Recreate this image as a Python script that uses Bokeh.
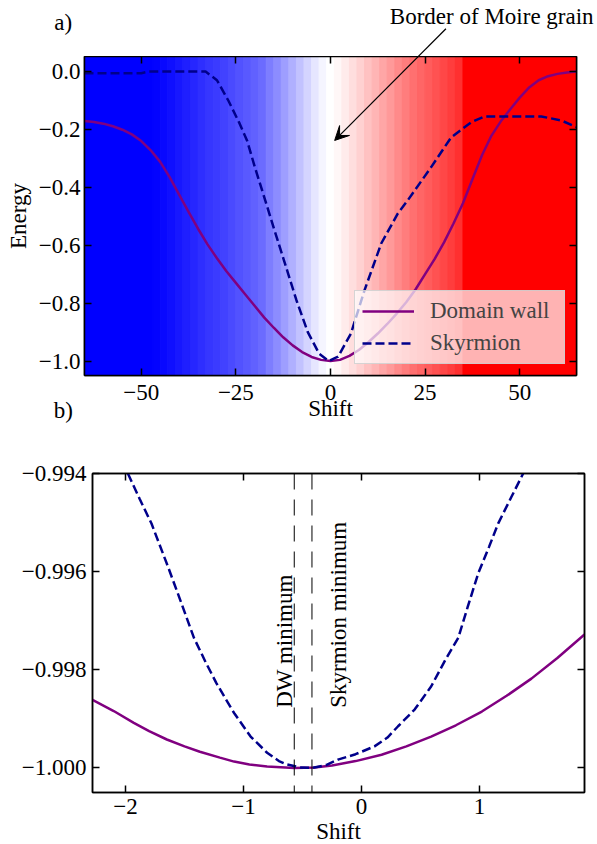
import math
from bokeh.plotting import figure
from bokeh.models import (Range1d, LinearAxis, FixedTicker, CustomJSTickFormatter,
                          Arrow, VeeHead, Label, Span, ColumnDataSource)
from bokeh.layouts import column
from bokeh.embed import file_html
from bokeh.resources import INLINE

FONT = "Liberation Serif"
FS = "23px"

# ---------------- panel a data ----------------
a_dw_shift = [-65, -62.5, -60, -57.5, -55, -52.5, -50, -47.5, -45, -42.5, -40, -37.5, -35,
              -32.5, -30, -27.5, -25, -22.5, -20, -17.5, -15, -12.5, -10, -7.5, -5, -2.5, 0,
              2.5, 5, 7.5, 10, 12.5, 15, 17.5, 20, 22.5, 25, 27.5, 30, 32.5, 35, 37.5, 40,
              42.5, 45, 47.5, 50, 52.5, 55, 57.5, 60, 62.5, 65]
a_dw_energy = [-0.171, -0.174, -0.180, -0.189, -0.201, -0.217, -0.240, -0.272, -0.312, -0.365,
               -0.425, -0.485, -0.543, -0.597, -0.645, -0.69, -0.73, -0.77, -0.81, -0.85,
               -0.885, -0.918, -0.946, -0.969, -0.986, -0.996, -1.0,
               -0.996, -0.982, -0.962, -0.935, -0.905, -0.872, -0.836, -0.797, -0.752, -0.70,
               -0.648, -0.59, -0.525, -0.455, -0.372, -0.29, -0.222, -0.172, -0.13, -0.09,
               -0.055, -0.03, -0.016, -0.008, -0.003, 0.0]

a_sk_shift = [-65, -50, -48, -33, -30, -27, -24, -22, -20, -17.6, -15, -12.3, -9, -6, -3, -0.5,
              2, 5.4, 9, 13.4, 17.8, 20.4, 26.6, 31.9, 37.2, 40.7, 55.7, 61, 65]
a_sk_energy = [-0.006, -0.006, 0.0, 0.0, -0.03, -0.1, -0.18, -0.24, -0.33, -0.43, -0.54, -0.652,
               -0.79, -0.9, -0.975, -1.0,
               -0.985, -0.905, -0.755, -0.594, -0.49, -0.445, -0.33, -0.227, -0.175, -0.155,
               -0.155, -0.169, -0.192]

# background colour bands (edges in Shift, value -1 = blue, 0 = white, +1 = red)
bg_edges = [-65, -47, -45, -43, -41, -39, -37, -35, -33, -31, -29, -27, -25, -23, -21, -19,
            -17, -15, -13, -11, -9, -7, -5, -3, -1, 1, 3, 5, 7, 9, 11, 13, 15, 17, 19, 21, 23,
            25, 27, 29, 31, 33, 35, 65]
bg_values = [-1.0,
             -0.99, -0.97, -0.94, -0.91, -0.88, -0.85, -0.82, -0.79, -0.77, -0.74, -0.71,
             -0.68, -0.65, -0.62, -0.58, -0.51, -0.45, -0.38, -0.31, -0.24, -0.17, -0.10, -0.04,
             0.0,
             0.03, 0.08, 0.13, 0.18, 0.24, 0.29, 0.35, 0.40, 0.46, 0.51, 0.56, 0.60, 0.64,
             0.68, 0.72, 0.76, 0.81,
             1.0]

a_xticks = [-50, -25, 0, 25, 50]
a_xlabels = ["\u221250", "\u221225", "0", "25", "50"]
a_yticks = [0.0, -0.2, -0.4, -0.6, -0.8, -1.0]
a_ylabels = ["0.0", "\u22120.2", "\u22120.4", "\u22120.6", "\u22120.8", "\u22121.0"]

# annotation of panel a (data coordinates)
annot_text = "Border of Moire grain"
annot_text_xy = (42.6, 0.19)
annot_start = (30.5, 0.148)
annot_end = (1.1, -0.238)
panel_a_xy = (-70.6, 0.169)
panel_b_xy = (-70.6, -1.172)

# ---------------- panel b data ----------------
b_dw_shift = [-2.28, -2.1, -1.93, -1.8, -1.65, -1.5, -1.37, -1.2, -1.08, -0.95, -0.8, -0.57,
              -0.4, -0.25, -0.05, 0.17, 0.38, 0.59, 0.8, 1.02, 1.23, 1.44, 1.66, 1.89]
b_dw_energy = [-0.99861, -0.99884, -0.99908, -0.99925, -0.99942, -0.99956, -0.99967, -0.99979,
               -0.99987, -0.99993, -0.99997, -1.0, -0.99999, -0.99995, -0.99986, -0.99973,
               -0.99956, -0.99936, -0.99913, -0.99885, -0.99853, -0.99818, -0.99776, -0.99728]

b_sk_shift = [-1.98, -1.88, -1.78, -1.64, -1.53, -1.42, -1.32, -1.23, -1.15, -1.08, -0.94, -0.80,
              -0.70, -0.63, -0.52, -0.42, -0.30, -0.20, -0.05, 0.11, 0.22, 0.31, 0.45, 0.59,
              0.71, 0.82, 0.90, 0.99, 1.08, 1.16, 1.27, 1.37]
b_sk_energy = [-0.99400, -0.99452, -0.99502, -0.99590, -0.99662, -0.99735, -0.99785, -0.99827,
               -0.99860, -0.99888, -0.99936, -0.99969, -0.99986, -0.99993, -0.99999, -1.0,
               -0.99994, -0.99983, -0.99972, -0.99956, -0.99938, -0.99915, -0.99881, -0.99834,
               -0.99780, -0.99735, -0.99672, -0.99603, -0.99550, -0.99501, -0.99448, -0.99400]

dw_minimum = -0.57
sk_minimum = -0.42
minima_label_y = -0.998773
dw_label_x = -0.656
sk_label_x = -0.198

b_xticks = [-2, -1, 0, 1]
b_xlabels = ["\u22122", "\u22121", "0", "1"]
b_yticks = [-0.994, -0.996, -0.998, -1.0]
b_ylabels = ["\u22120.994", "\u22120.996", "\u22120.998", "\u22121.000"]


def fmt(ticks, labels):
    return CustomJSTickFormatter(args=dict(tvals=ticks, tlabels=labels), code="""
        for (let i = 0; i < tvals.length; i++) {
            if (Math.abs(tick - tvals[i]) < 1e-9) { return tlabels[i]; }
        }
        return '';
    """)


def style_axis(ax, ticks, labels, show_labels=True):
    ax.ticker = FixedTicker(ticks=ticks)
    ax.formatter = fmt(ticks, labels)
    ax.major_tick_in = 7
    ax.major_tick_out = 0
    ax.minor_tick_in = 0
    ax.minor_tick_out = 0
    ax.major_tick_line_width = 1.5
    ax.major_tick_line_color = "black"
    ax.axis_line_width = 1.5
    ax.axis_line_color = "black"
    ax.major_label_text_font = FONT
    if show_labels:
        ax.major_label_text_font_size = FS
        ax.major_label_text_color = "black"
        ax.major_label_standoff = 6
    else:
        ax.major_label_text_font_size = "1px"
        ax.major_label_text_color = None
        ax.major_label_standoff = 0
    ax.axis_label_text_font = FONT
    ax.axis_label_text_font_size = FS
    ax.axis_label_text_font_style = "normal"
    ax.axis_label_text_color = "black"


def band_color(v):
    if v <= 0:
        w = int(round(255 * (1 + v)))
        return "#%02x%02x%02x" % (w, w, 255)
    w = int(round(255 * (1 - v)))
    return "#%02x%02x%02x" % (255, w, w)


def text_label(x, y, text, **kw):
    return Label(x=x, y=y, text=text, text_font=FONT, text_font_size=FS,
                 text_color="black", **kw)


# ---- geometry of panel a ----
A_LEFT, A_RIGHT, A_TOP = 84, 21, 56
A_FW, A_FH = 492, 319
a_xr = (-65, 65)
a_yr = (-1.05, 0.052)
a_xs = A_FW / (a_xr[1] - a_xr[0])
a_ys = A_FH / (a_yr[1] - a_yr[0])

# ================= strip above panel a (annotation texts + arrow tail) =================
s1 = figure(frame_width=A_LEFT + A_FW + A_RIGHT, frame_height=A_TOP,
            x_range=Range1d(a_xr[0] - A_LEFT / a_xs, a_xr[1] + A_RIGHT / a_xs),
            y_range=Range1d(a_yr[1], a_yr[1] + A_TOP / a_ys),
            x_axis_type=None, y_axis_type=None, min_border=0,
            output_backend="svg", toolbar_location=None)
s1.outline_line_color = None
s1.xgrid.visible = False
s1.ygrid.visible = False
s1.add_layout(text_label(annot_text_xy[0], annot_text_xy[1], annot_text,
                         text_align="center", text_baseline="middle"))
s1.add_layout(text_label(panel_a_xy[0], panel_a_xy[1], "a)",
                         text_align="center", text_baseline="middle"))
s1.add_layout(Arrow(end=None, x_start=annot_start[0], y_start=annot_start[1],
                    x_end=annot_end[0], y_end=annot_end[1],
                    line_width=1.2, line_color="black"))

# ================= panel a =================
p1 = figure(frame_width=A_FW, frame_height=A_FH,
            x_range=Range1d(*a_xr), y_range=Range1d(*a_yr),
            min_border_left=A_LEFT, min_border_right=A_RIGHT, min_border_top=0,
            min_border_bottom=80,
            output_backend="svg", toolbar_location=None,
            x_axis_label="Shift", y_axis_label="Energy")
p1.xgrid.visible = False
p1.ygrid.visible = False
p1.outline_line_color = "black"
p1.outline_line_width = 1.5
p1.background_fill_color = "white"
p1.border_fill_color = "white"

bg_src = ColumnDataSource(dict(
    left=bg_edges[:-1], right=bg_edges[1:],
    color=[band_color(v) for v in bg_values]))
p1.quad(left="left", right="right", bottom=a_yr[0], top=a_yr[1],
        fill_color="color", line_color="color", line_width=1, source=bg_src)

p1.line(a_dw_shift, a_dw_energy, line_color="purple", line_width=2.5, legend_label="Domain wall")
p1.line(a_sk_shift, a_sk_energy, line_color="#00008B", line_width=2.5, line_dash="9 4",
        legend_label="Skyrmion")

style_axis(p1.xaxis[0], a_xticks, a_xlabels)
style_axis(p1.yaxis[0], a_yticks, a_ylabels)
p1.xaxis[0].major_label_standoff = 9
p1.xaxis[0].axis_label_standoff = -7
p1.yaxis[0].major_label_standoff = 4
p1.yaxis[0].axis_label_standoff = 5
ax_top = LinearAxis()
style_axis(ax_top, a_xticks, a_xlabels, show_labels=False)
p1.add_layout(ax_top, "above")
ax_right = LinearAxis()
style_axis(ax_right, a_yticks, a_ylabels, show_labels=False)
p1.add_layout(ax_right, "right")

lg = p1.legend[0]
lg.location = "bottom_right"
lg.margin = 11
lg.label_text_font = FONT
lg.label_text_font_size = FS
lg.glyph_width = 52
lg.glyph_height = 26
lg.label_width = 127
lg.label_standoff = 16
lg.padding = 7
lg.spacing = 6
lg.background_fill_color = "white"
lg.background_fill_alpha = 0.7
lg.border_line_color = "#cccccc"
lg.border_line_alpha = 0.8

p1.add_layout(Arrow(end=VeeHead(size=14, fill_color="black", line_color="black"),
                    x_start=annot_start[0], y_start=annot_start[1],
                    x_end=annot_end[0], y_end=annot_end[1],
                    line_width=1.2, line_color="black"))
p1.add_layout(text_label(panel_b_xy[0], panel_b_xy[1], "b)",
                         text_align="center", text_baseline="middle"), "below")

# ================= panel b =================
p2 = figure(frame_width=492, frame_height=319,
            x_range=Range1d(-2.28, 1.89), y_range=Range1d(-1.0005, -0.994),
            min_border_left=92, min_border_right=13, min_border_top=18, min_border_bottom=52,
            output_backend="svg", toolbar_location=None,
            x_axis_label="Shift")
p2.xgrid.visible = False
p2.ygrid.visible = False
p2.outline_line_color = "black"
p2.outline_line_width = 1.5
p2.background_fill_color = "white"
p2.border_fill_color = "white"

p2.line(b_dw_shift, b_dw_energy, line_color="purple", line_width=2.5)
p2.line(b_sk_shift, b_sk_energy, line_color="#00008B", line_width=2.5, line_dash="9 4")

p2.add_layout(Span(location=dw_minimum, dimension="height", line_color="black",
                   line_width=1, line_dash="16 10"))
p2.add_layout(Span(location=sk_minimum, dimension="height", line_color="black",
                   line_width=1, line_dash="16 10"))
p2.add_layout(text_label(dw_label_x, minima_label_y, "DW minimum", angle=math.pi / 2,
                         text_align="left", text_baseline="alphabetic"))
p2.add_layout(text_label(sk_label_x, minima_label_y, "Skyrmion minimum", angle=math.pi / 2,
                         text_align="left", text_baseline="alphabetic"))

style_axis(p2.xaxis[0], b_xticks, b_xlabels)
style_axis(p2.yaxis[0], b_yticks, b_ylabels)
p2.xaxis[0].major_label_standoff = 6
p2.xaxis[0].axis_label_standoff = 2
ax_top2 = LinearAxis()
style_axis(ax_top2, b_xticks, b_xlabels, show_labels=False)
p2.add_layout(ax_top2, "above")
ax_right2 = LinearAxis()
style_axis(ax_right2, b_yticks, b_ylabels, show_labels=False)
p2.add_layout(ax_right2, "right")

layout = column(column(s1), column(p1), column(p2), spacing=0)
open("out.html", "w").write(file_html(layout, INLINE))
